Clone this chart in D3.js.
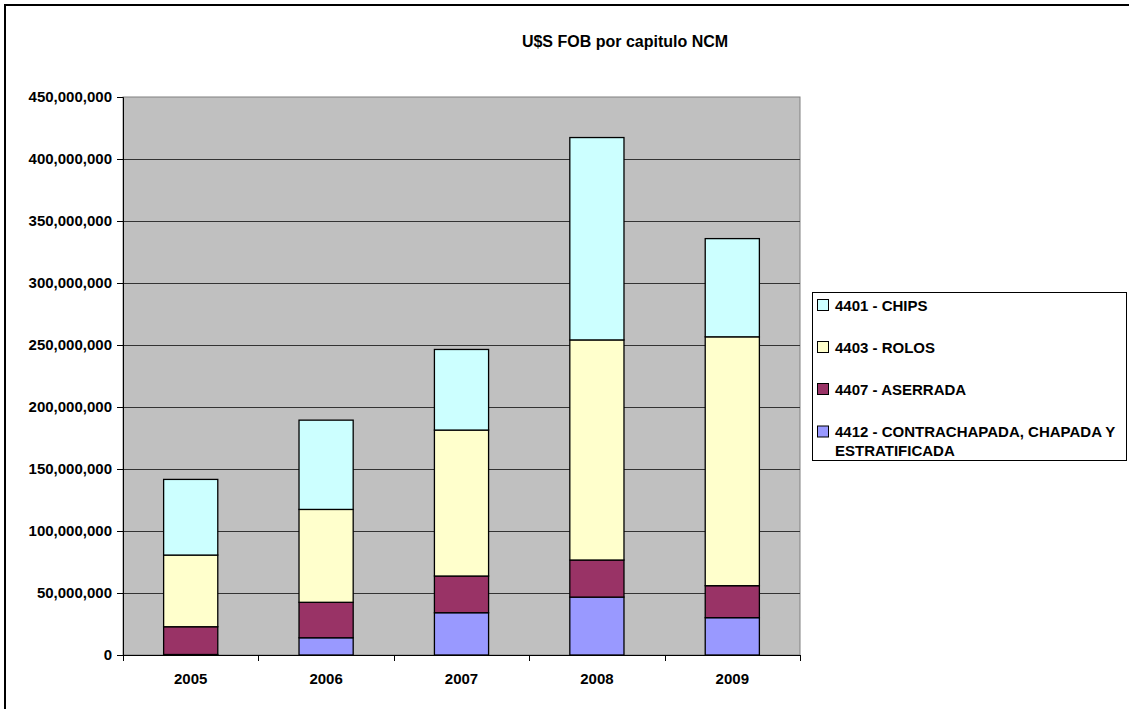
<!DOCTYPE html>
<html>
<head>
<meta charset="utf-8">
<script src="https://d3js.org/d3.v7.min.js"></script>
<style>
  body { margin: 0; background: #fff; }
  svg { display: block; font-family: Arial, "Liberation Sans", sans-serif; }
</style>
</head>
<body>
<svg id="chart" width="1129" height="709"></svg>
<script>
// Export values by NCM chapter, US$ FOB
const years = ["2005", "2006", "2007", "2008", "2009"];
const contrachapada = [400000, 13900000, 34100000, 46700000, 30100000];
const aserrada = [22400000, 28600000, 29600000, 29900000, 25800000];
const rolos = [57800000, 74900000, 117700000, 177500000, 200700000];
const chips = [61000000, 72000000, 65000000, 163200000, 79200000];
const yTicks = [0, 50000000, 100000000, 150000000, 200000000, 250000000, 300000000, 350000000, 400000000, 450000000];

const seriesNames = ["4412 - CONTRACHAPADA, CHAPADA Y ESTRATIFICADA", "4407 - ASERRADA", "4403 - ROLOS", "4401 - CHIPS"];
const seriesValues = [contrachapada, aserrada, rolos, chips];
const seriesColors = ["#9999FF", "#993366", "#FFFFCC", "#CCFFFF"];

const FONT = "Arial, 'Liberation Sans', sans-serif";
const svg = d3.select("#chart");
const plot = { left: 123, top: 97, right: 800, bottom: 655 };

// Outer chart frame (extends past the right and bottom edges)
svg.append("rect")
  .attr("x", 5).attr("y", 5).attr("width", 1240).attr("height", 760)
  .attr("fill", "none").attr("stroke", "#000").attr("stroke-width", 2);

svg.append("text")
  .attr("x", 625).attr("y", 47)
  .attr("text-anchor", "middle")
  .attr("font-size", 16).attr("font-weight", "bold")
  .text("U$S FOB por capitulo NCM");

const x = d3.scaleBand().domain(years).range([plot.left, plot.right]).paddingInner(0.6).paddingOuter(0.3);
const xOuter = d3.scaleBand().domain(years).range([plot.left, plot.right]);
const y = d3.scaleLinear().domain([0, 450000000]).range([plot.bottom, plot.top]);

// Plot background
svg.append("rect")
  .attr("x", plot.left).attr("y", plot.top)
  .attr("width", plot.right - plot.left).attr("height", plot.bottom - plot.top)
  .attr("fill", "#C0C0C0").attr("stroke", "#808080").attr("stroke-width", 1);

// Horizontal gridlines
svg.append("g").selectAll("line")
  .data(yTicks.filter(d => d > 0 && d < 450000000))
  .join("line")
  .attr("x1", plot.left).attr("x2", plot.right)
  .attr("y1", d => Math.round(y(d)) + 0.5).attr("y2", d => Math.round(y(d)) + 0.5)
  .attr("stroke", "#333")
  .attr("stroke-width", 1);

// Stacked bars
const stackData = years.map((yr, i) => {
  const o = { year: yr };
  seriesNames.forEach((n, s) => o[n] = seriesValues[s][i]);
  return o;
});
const stacked = d3.stack().keys(seriesNames)(stackData);

svg.append("g").selectAll("g")
  .data(stacked)
  .join("g")
  .attr("fill", (d, i) => seriesColors[i])
  .selectAll("rect")
  .data(d => d)
  .join("rect")
  .attr("x", d => x(d.data.year))
  .attr("width", x.bandwidth())
  .attr("y", d => y(d[1]))
  .attr("height", d => y(d[0]) - y(d[1]))
  .attr("stroke", "#000")
  .attr("stroke-width", 1.3);

// Y axis
const yAxis = svg.append("g")
  .attr("transform", `translate(${plot.left},0)`)
  .call(d3.axisLeft(y).tickValues(yTicks).tickSize(6).tickPadding(5).tickFormat(d3.format(",")));
yAxis.select(".domain").attr("stroke", "#000");
yAxis.selectAll("text").attr("font-size", 15).attr("font-weight", "bold").attr("fill", "#000")
  .attr("font-family", FONT);

// X axis with ticks between categories
const xAxisG = svg.append("g").attr("transform", `translate(0,${plot.bottom})`);
xAxisG.append("line")
  .attr("x1", plot.left).attr("x2", plot.right)
  .attr("y1", 0.5).attr("y2", 0.5).attr("stroke", "#000");
xAxisG.selectAll("line.tk")
  .data(years.map(d => xOuter(d)).concat([plot.right]))
  .join("line").attr("class", "tk")
  .attr("x1", d => Math.round(d) + 0.5).attr("x2", d => Math.round(d) + 0.5)
  .attr("y1", 0).attr("y2", 6).attr("stroke", "#000");
xAxisG.selectAll("text")
  .data(years)
  .join("text")
  .attr("x", d => xOuter(d) + xOuter.bandwidth() / 2)
  .attr("y", 29)
  .attr("text-anchor", "middle")
  .attr("font-size", 15).attr("font-weight", "bold")
  .text(d => d);

// Legend
const legend = svg.append("g");
legend.append("rect")
  .attr("x", 812.5).attr("y", 292.5).attr("width", 314).attr("height", 168)
  .attr("fill", "#fff").attr("stroke", "#000").attr("stroke-width", 1);

const legendItems = [
  { color: seriesColors[3], lines: ["4401 - CHIPS"] },
  { color: seriesColors[2], lines: ["4403 - ROLOS"] },
  { color: seriesColors[1], lines: ["4407 - ASERRADA"] },
  { color: seriesColors[0], lines: ["4412 - CONTRACHAPADA, CHAPADA Y", "ESTRATIFICADA"] }
];
const rowY = [305, 347, 389, 431.5];
legendItems.forEach((it, i) => {
  legend.append("rect")
    .attr("x", 817.5).attr("y", rowY[i] - 5.5).attr("width", 11).attr("height", 11)
    .attr("fill", it.color).attr("stroke", "#000").attr("stroke-width", 1);
  const t = legend.append("text")
    .attr("x", 835).attr("y", rowY[i] + 5.5)
    .attr("font-size", 15).attr("font-weight", "bold");
  it.lines.forEach((ln, k) => {
    t.append("tspan").attr("x", 835).attr("dy", k === 0 ? 0 : 18.5).text(ln);
  });
});
</script>
</body>
</html>
